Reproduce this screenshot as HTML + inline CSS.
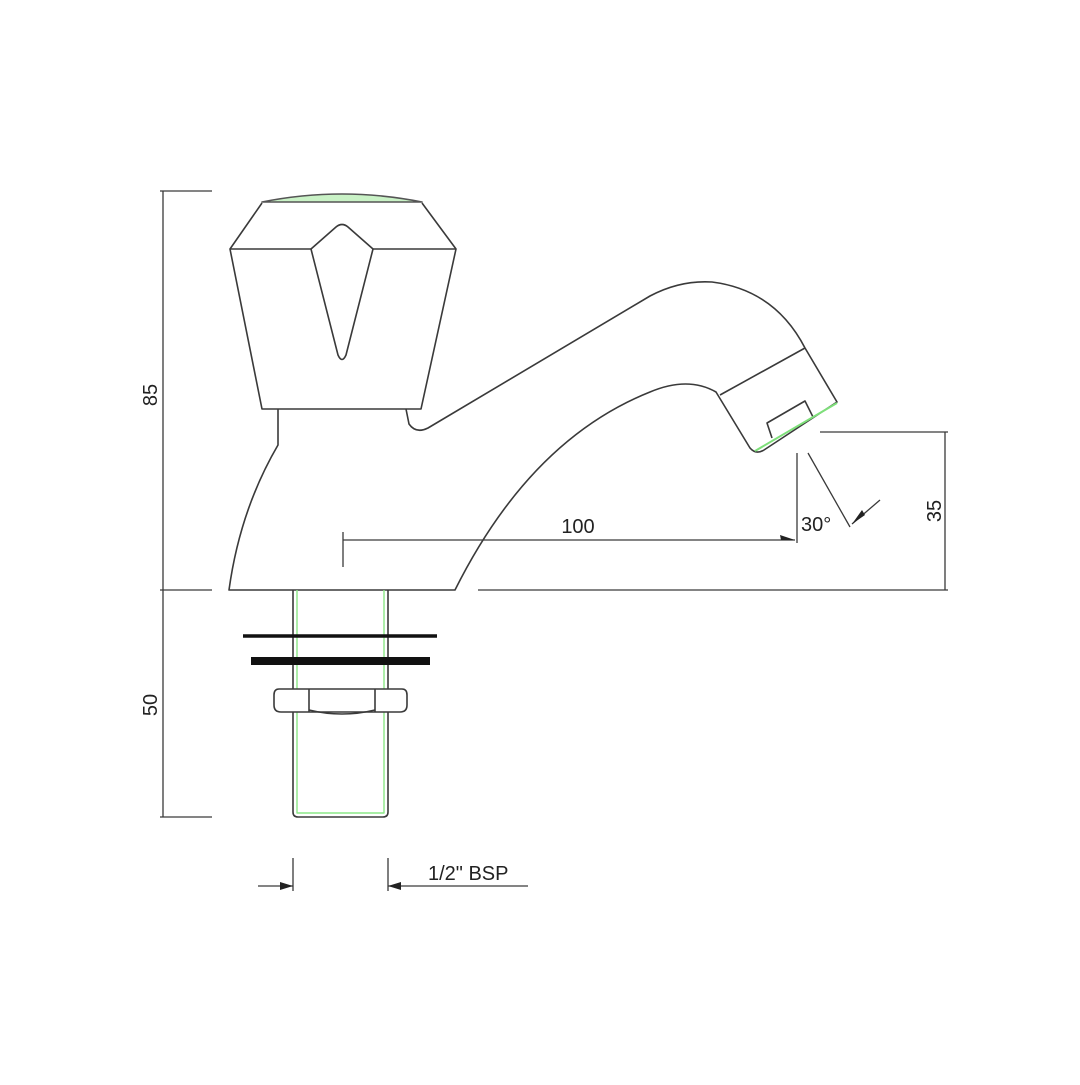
<!DOCTYPE html>
<html><head><style>html,body{margin:0;padding:0;background:#fff}</style></head><body>
<svg width="1080" height="1080" viewBox="0 0 1080 1080" xmlns="http://www.w3.org/2000/svg">
<rect width="1080" height="1080" fill="#fff"/>
<g fill="none" stroke="#3a3a3a" stroke-width="1.6" stroke-linejoin="round">
<!-- knob -->
<path d="M262,202 Q342,186 422,202 Z" fill="#c9f2c6" stroke="#555"/>
<path d="M262,203 L230,249 L262,409 L421,409 L456,249 L422,203"/>
<line x1="230" y1="249" x2="456" y2="249"/>
<path d="M311,249 L336,227 Q342,222 348,227 L373,249 L346,355 Q342,364 338,355 Z" fill="#fff"/>
<!-- body -->
<path d="M278,409 L278,445 Q240,510 229,590 L455,590 Q530,440 650,392 Q688,376 716,392 L750,448 Q756,455 764,450 L837,402 L805,348 Q775,290 712,282 Q680,280 650,296 L428,428 Q416,434 409,424 L406,409"/>
<line x1="720" y1="395" x2="805" y2="348"/>
<path d="M772,438 L767,423 L805,401 L813,417"/>
<line x1="755" y1="451" x2="837" y2="403" stroke="#7ee07a" stroke-width="2"/>
<!-- pipe -->
<path d="M293,590 L293,812 Q293,817 298,817 L383,817 Q388,817 388,812 L388,590"/>
<path d="M297,590 L297,813 L384,813 L384,590" stroke="#8be887" stroke-width="1.4"/>
<path d="M279,689 L402,689 Q407,689 407,695 L407,705 Q407,712 400,712 L281,712 Q274,712 274,705 L274,695 Q274,689 279,689 Z" fill="#fff"/>
<line x1="309" y1="689" x2="309" y2="712"/><line x1="375" y1="689" x2="375" y2="712"/>
<path d="M309,710 Q342,718 375,710"/>
</g>
<line x1="243" y1="636" x2="437" y2="636" stroke="#111" stroke-width="3.5"/>
<line x1="251" y1="661" x2="430" y2="661" stroke="#111" stroke-width="8"/>
<!-- dimensions -->
<g fill="none" stroke="#3a3a3a" stroke-width="1.3">
<line x1="163" y1="191" x2="163" y2="817"/>
<line x1="160" y1="191" x2="212" y2="191"/>
<line x1="160" y1="590" x2="212" y2="590"/>
<line x1="160" y1="817" x2="212" y2="817"/>
<line x1="343" y1="540" x2="795" y2="540"/>
<line x1="343" y1="532" x2="343" y2="567"/>
<line x1="797" y1="453" x2="797" y2="543"/>
<line x1="808" y1="453" x2="850" y2="527"/>
<line x1="880" y1="500" x2="852" y2="524"/>
<line x1="820" y1="432" x2="948" y2="432"/>
<line x1="478" y1="590" x2="948" y2="590"/>
<line x1="945" y1="432" x2="945" y2="590"/>
<line x1="293" y1="858" x2="293" y2="891"/>
<line x1="388" y1="858" x2="388" y2="891"/>
<line x1="258" y1="886" x2="293" y2="886"/>
<line x1="388" y1="886" x2="528" y2="886"/>
</g>
<g fill="#222">
<path d="M795,540 L780,535 L781,540 Z"/>
<path d="M852,524 L862,510 L865,515 Z"/>
<path d="M293,886 L280,882 L280,890 Z"/>
<path d="M388,886 L401,882 L401,890 Z"/>
</g>
<g font-family="Liberation Sans, sans-serif" font-size="20" fill="#222">
<text x="157" y="395" transform="rotate(-90 157 395)" text-anchor="middle">85</text>
<text x="157" y="705" transform="rotate(-90 157 705)" text-anchor="middle">50</text>
<text x="941" y="511" transform="rotate(-90 941 511)" text-anchor="middle">35</text>
<text x="578" y="533" text-anchor="middle">100</text>
<text x="801" y="531">30°</text>
<text x="428" y="880">1/2" BSP</text>
</g>
</svg>
</body></html>
